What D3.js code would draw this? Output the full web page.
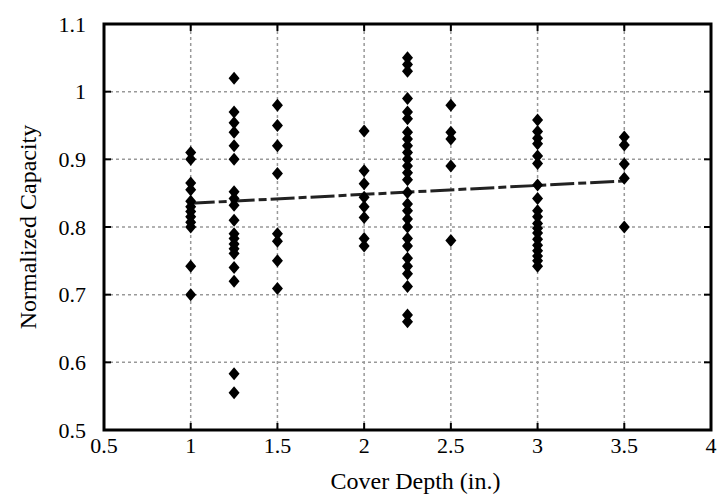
<!DOCTYPE html>
<html>
<head>
<meta charset="utf-8">
<script src="https://cdn.jsdelivr.net/npm/d3@7"></script>
<style>
  body { margin: 0; background: #fff; }
  svg text { font-family: "Liberation Serif", "Times New Roman", serif; fill: #000; }
</style>
</head>
<body>
<div id="chart"></div>
<script>
// cover depth groups and the normalized capacity measured at each
const depths = [1, 1.25, 1.5, 2, 2.25, 2.5, 3, 3.5];
const capAt1 = [0.91, 0.90, 0.865, 0.855, 0.838, 0.83, 0.823, 0.815, 0.807, 0.80, 0.742, 0.70];
const capAt125 = [1.02, 0.97, 0.954, 0.94, 0.92, 0.90, 0.852, 0.842, 0.832, 0.81, 0.79, 0.783, 0.775, 0.768, 0.761, 0.74, 0.72, 0.583, 0.555];
const capAt15 = [0.98, 0.95, 0.92, 0.879, 0.79, 0.779, 0.75, 0.709];
const capAt2 = [0.942, 0.883, 0.864, 0.844, 0.83, 0.814, 0.783, 0.772];
const capAt225 = [1.05, 1.04, 1.03, 0.99, 0.97, 0.96, 0.94, 0.93, 0.92, 0.91, 0.90, 0.89, 0.88, 0.87, 0.851, 0.834, 0.824, 0.812, 0.80, 0.783, 0.772, 0.754, 0.742, 0.731, 0.712, 0.67, 0.66];
const capAt25 = [0.98, 0.94, 0.93, 0.89, 0.78];
const capAt3 = [0.958, 0.941, 0.931, 0.923, 0.905, 0.894, 0.862, 0.842, 0.824, 0.815, 0.805, 0.798, 0.791, 0.782, 0.773, 0.765, 0.757, 0.75, 0.742];
const capAt35 = [0.933, 0.921, 0.893, 0.872, 0.80];
const groups = [capAt1, capAt125, capAt15, capAt2, capAt225, capAt25, capAt3, capAt35];

// fitted trend line end points
const trendX = [1, 3.5];
const trendY = [0.835, 0.868];

const xTicks = [0.5, 1, 1.5, 2, 2.5, 3, 3.5, 4];
const yTicks = [0.5, 0.6, 0.7, 0.8, 0.9, 1, 1.1];

const width = 718, height = 497;
const margin = { top: 24, right: 7, bottom: 67, left: 104 };

const svg = d3.select("#chart").append("svg")
  .attr("width", width)
  .attr("height", height);

const x = d3.scaleLinear().domain([0.5, 4]).range([margin.left, width - margin.right]);
const y = d3.scaleLinear().domain([0.5, 1.1]).range([height - margin.bottom, margin.top]);

const points = [];
depths.forEach((d, i) => groups[i].forEach((v) => points.push({ x: d, y: v })));

// grid (dotted grey)
const grid = svg.append("g");
grid.selectAll("line.gx")
  .data(xTicks.slice(1, -1))
  .enter().append("line")
  .attr("x1", (d) => x(d)).attr("x2", (d) => x(d))
  .attr("y1", y(0.5)).attr("y2", y(1.1))
  .attr("stroke", "#999").attr("stroke-width", 1.5)
  .attr("stroke-dasharray", "3,3");
grid.selectAll("line.gy")
  .data(yTicks.slice(1, -1))
  .enter().append("line")
  .attr("x1", x(0.5)).attr("x2", x(4))
  .attr("y1", (d) => y(d)).attr("y2", (d) => y(d))
  .attr("stroke", "#999").attr("stroke-width", 1.5)
  .attr("stroke-dasharray", "3,3");

// inward ticks on all four sides
const tickLen = 7;
const ticks = svg.append("g").attr("stroke", "#000").attr("stroke-width", 2);
xTicks.slice(1, -1).forEach((t) => {
  ticks.append("line").attr("x1", x(t)).attr("x2", x(t)).attr("y1", y(0.5)).attr("y2", y(0.5) - tickLen);
  ticks.append("line").attr("x1", x(t)).attr("x2", x(t)).attr("y1", y(1.1)).attr("y2", y(1.1) + tickLen);
});
yTicks.slice(1, -1).forEach((t) => {
  ticks.append("line").attr("x1", x(0.5)).attr("x2", x(0.5) + tickLen).attr("y1", y(t)).attr("y2", y(t));
  ticks.append("line").attr("x1", x(4)).attr("x2", x(4) - tickLen).attr("y1", y(t)).attr("y2", y(t));
});

// trend line
svg.append("path")
  .datum(trendX.map((d, i) => [d, trendY[i]]))
  .attr("d", d3.line().x((d) => x(d[0])).y((d) => y(d[1])))
  .attr("fill", "none")
  .attr("stroke", "#222")
  .attr("stroke-width", 3)
  .attr("stroke-dasharray", "24,4,8,4");

// diamond markers
const diamond = "M0,-6.5L5.5,0L0,6.5L-5.5,0Z";
svg.append("g").selectAll("path")
  .data(points)
  .enter().append("path")
  .attr("d", diamond)
  .attr("transform", (d) => `translate(${x(d.x)},${y(d.y)})`)
  .attr("fill", "#000");

// frame
svg.append("rect")
  .attr("x", x(0.5)).attr("y", y(1.1))
  .attr("width", x(4) - x(0.5)).attr("height", y(0.5) - y(1.1))
  .attr("fill", "none").attr("stroke", "#000").attr("stroke-width", 3);

// tick labels
svg.append("g").selectAll("text")
  .data(xTicks)
  .enter().append("text")
  .attr("x", (d) => x(d))
  .attr("y", y(0.5) + 23)
  .attr("text-anchor", "middle")
  .attr("font-size", 22)
  .text((d) => d);

svg.append("g").selectAll("text")
  .data(yTicks)
  .enter().append("text")
  .attr("x", x(0.5) - 18)
  .attr("y", (d) => y(d))
  .attr("dy", "0.35em")
  .attr("text-anchor", "end")
  .attr("font-size", 22)
  .text((d) => d);

// axis titles
svg.append("text")
  .attr("x", (x(0.5) + x(4)) / 2 + 8)
  .attr("y", height - 8)
  .attr("text-anchor", "middle")
  .attr("font-size", 24)
  .text("Cover Depth (in.)");

svg.append("text")
  .attr("transform", `translate(36,${(y(0.5) + y(1.1)) / 2}) rotate(-90)`)
  .attr("text-anchor", "middle")
  .attr("font-size", 24)
  .text("Normalized Capacity");
</script>
</body>
</html>
